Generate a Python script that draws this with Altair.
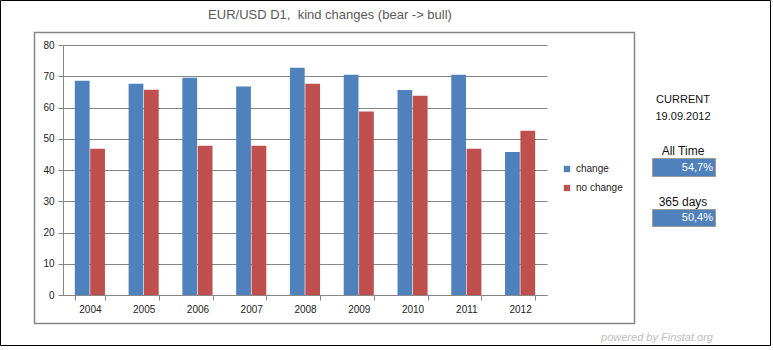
import altair as alt
import pandas as pd

years = ["2004", "2005", "2006", "2007", "2008", "2009", "2010", "2011", "2012"]
change = [68.6, 67.6, 69.5, 66.7, 72.7, 70.5, 65.6, 70.5, 45.8]
no_change = [46.8, 65.7, 47.8, 47.8, 67.6, 58.7, 63.8, 46.8, 52.6]
series_names = ["change", "no change"]
series_colors = ["#4F81BD", "#C0504D"]
y_ticks = [0, 10, 20, 30, 40, 50, 60, 70, 80]

title_text = "EUR/USD D1,\u00a0 kind changes (bear -> bull)"
panel_head = "CURRENT"
panel_date = "19.09.2012"
stat_labels = ["All Time", "365 days"]
stat_values = ["54,7%", "50,4%"]
footer = "powered by Finstat.org"

rows = []
for i, y in enumerate(years):
    rows.append({"year": y, "series": series_names[0], "value": change[i]})
    rows.append({"year": y, "series": series_names[1], "value": no_change[i]})
df = pd.DataFrame(rows)

FONT = "Liberation Sans"
W, H = 484, 250

bars = alt.Chart(df).mark_bar().encode(
    x=alt.X("year:N", sort=years,
            scale=alt.Scale(paddingInner=0.44, paddingOuter=0.22),
            axis=alt.Axis(title=None, tickBand="extent", labelAngle=0,
                          labelFont=FONT, labelFontSize=10, labelColor="#222",
                          domainColor="#868686", tickColor="#868686", tickSize=5,
                          labelPadding=4, grid=False)),
    xOffset=alt.XOffset("series:N", sort=series_names,
                        scale=alt.Scale(paddingInner=0.04)),
    y=alt.Y("value:Q", scale=alt.Scale(domain=[0, 80], nice=False),
            axis=alt.Axis(title=None, values=y_ticks, grid=True, gridColor="#868686",
                          labelFont=FONT, labelFontSize=10, labelColor="#222",
                          domainColor="#868686", tickColor="#868686", tickSize=5,
                          labelPadding=4)),
    color=alt.Color("series:N", sort=series_names,
                    scale=alt.Scale(domain=series_names, range=series_colors),
                    legend=alt.Legend(title=None, orient="none", legendX=499, legendY=119,
                                      symbolType="square", symbolSize=40,
                                      labelFont=FONT, labelFontSize=10, labelColor="#222",
                                      rowPadding=9, symbolStrokeWidth=0)),
)

one = pd.DataFrame({"d": [0]})


def frame(x1, y1, x2, y2, color, sw):
    return alt.Chart(one).mark_rect(fill="transparent", stroke=color, strokeWidth=sw).encode(
        x=alt.value(x1), x2=alt.value(x2), y=alt.value(y1), y2=alt.value(y2))


def box(x1, y1, x2, y2):
    return alt.Chart(one).mark_rect(fill="#4F81BD", stroke="#9a9a9a", strokeWidth=1).encode(
        x=alt.value(x1), x2=alt.value(x2), y=alt.value(y1), y2=alt.value(y2))


def label(t, x, y, size=12, color="#111", align="center", style="normal"):
    return alt.Chart(pd.DataFrame({"t": [t]})).mark_text(
        font=FONT, fontSize=size, color=color, align=align, baseline="middle",
        fontStyle=style).encode(text="t:N", x=alt.value(x), y=alt.value(y))


layers = [
    frame(-62.5, -44.5, 707.5, 300.5, "#000", 1),
    frame(-28.5, -12.5, 571.5, 278.5, "#868686", 1.5),
    bars,
    label(title_text, 267, -30, size=13, color="#595959"),
    label(panel_head, 620, 55, size=11),
    label(panel_date, 620, 72, size=11),
    label(stat_labels[0], 620, 106, size=12),
    box(589.5, 113.5, 652.5, 131.5),
    label(stat_values[0], 650, 123, size=11, color="#fff", align="right"),
    label(stat_labels[1], 620, 157, size=12),
    box(589.5, 164.5, 652.5, 181.5),
    label(stat_values[1], 650, 173, size=11, color="#fff", align="right"),
    label(footer, 594, 293, size=11, color="#bdbdbd", style="italic"),
]

chart = alt.layer(*layers).properties(
    width=W, height=H,
    autosize=alt.AutoSizeParams(type="none"),
    padding={"left": 63, "top": 45, "right": 226, "bottom": 55},
    background="white",
).configure_view(stroke=None)

chart.save("out.html", embed_options={"renderer": "svg", "actions": False})
